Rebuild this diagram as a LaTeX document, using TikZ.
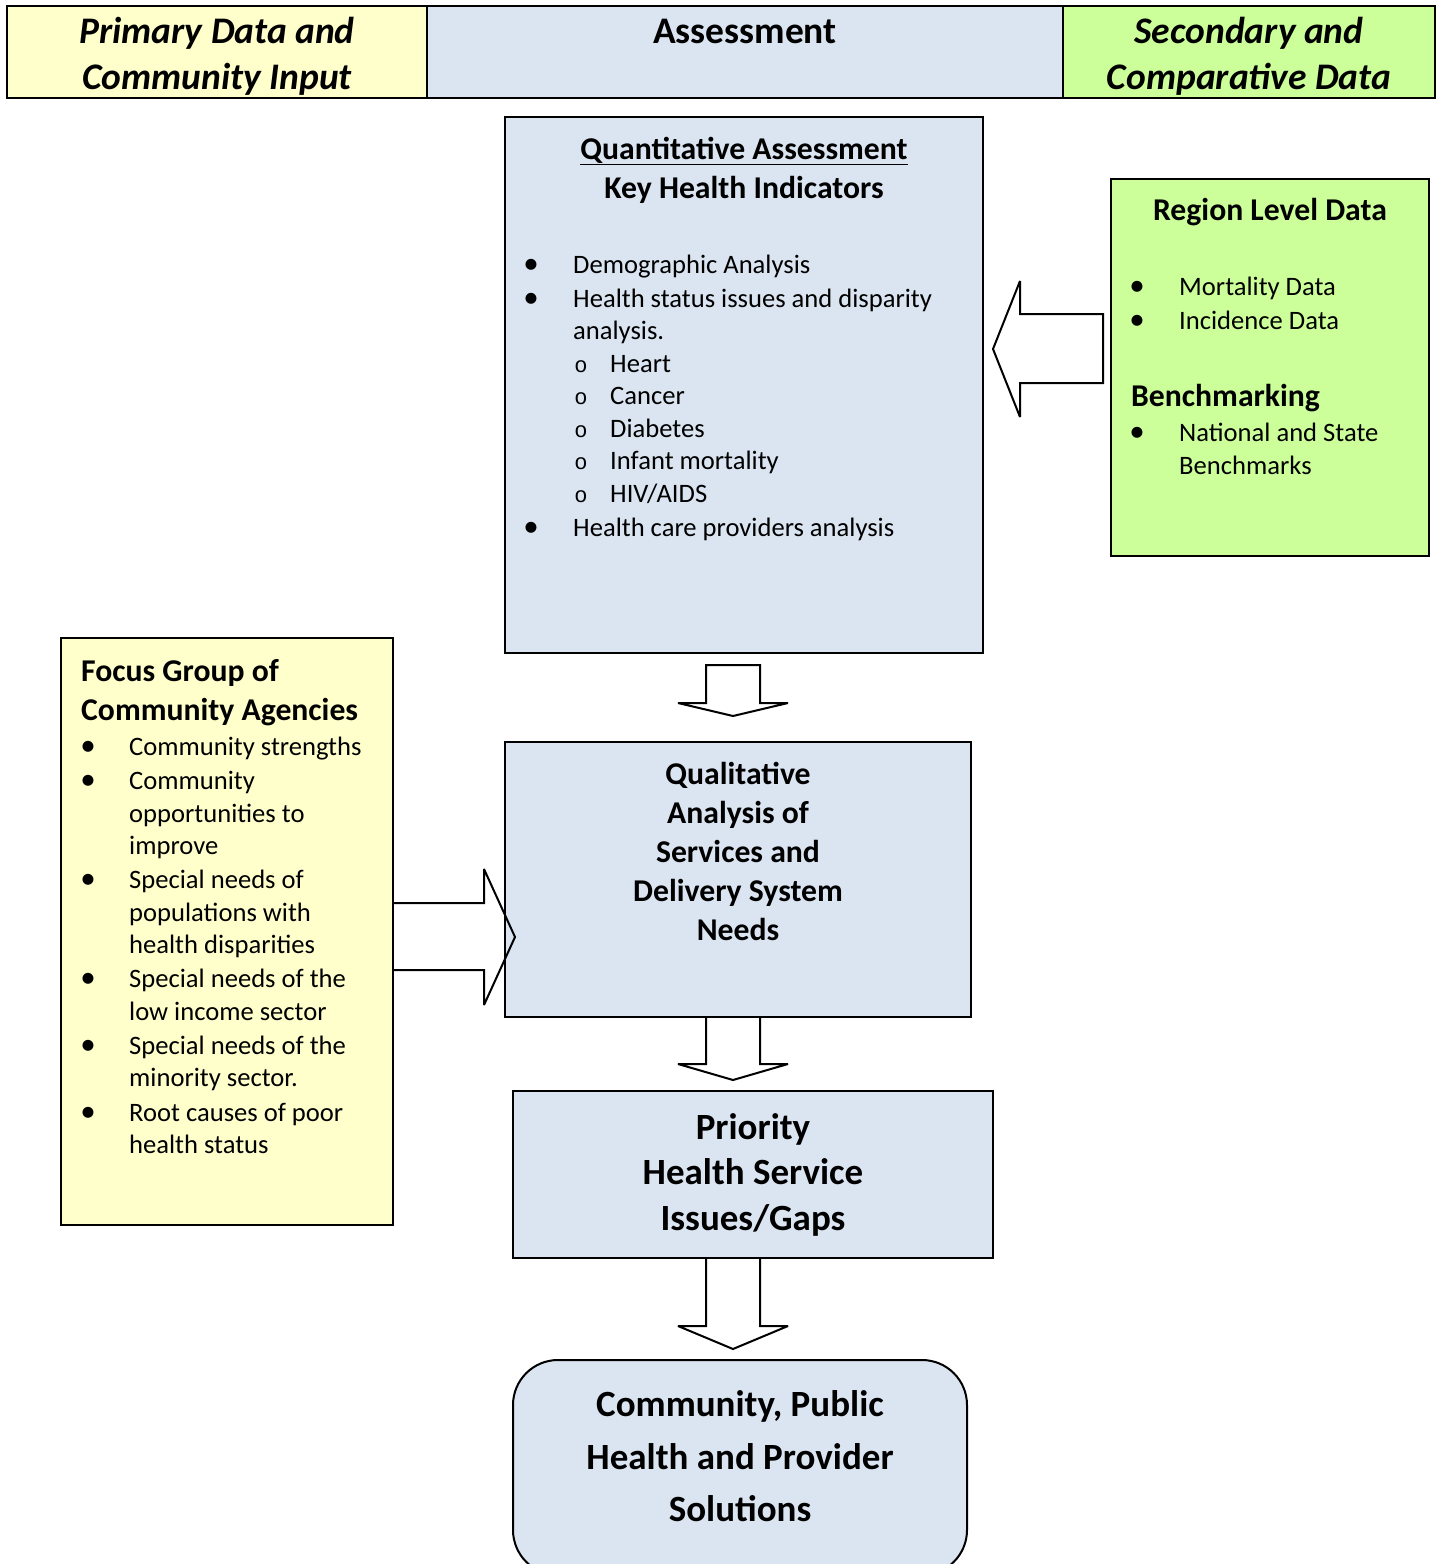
\documentclass[tikz,border=0pt]{standalone}
\usepackage{fontspec}
\setmainfont{Carlito}
\newfontfamily\monof{Liberation Mono}
\definecolor{yel}{HTML}{FFFFCC}
\definecolor{blu}{HTML}{DBE5F1}
\definecolor{grn}{HTML}{CCFF99}
\begin{document}
\begin{tikzpicture}[x=1pt,y=-1pt,
  box/.style={draw=black,line width=2pt,inner sep=0pt,outer sep=0pt,anchor=north west},
  body/.style={font=\fontsize{26.6}{33}\selectfont,inner sep=0pt,anchor=base west},
  bul/.style={font=\fontsize{31}{33}\selectfont,inner sep=0pt,anchor=base},
  sub/.style={font=\fontsize{22}{33}\selectfont\monof,inner sep=0pt,anchor=base},
  sec/.style={font=\fontsize{31.7}{39}\selectfont\bfseries,inner sep=0pt,anchor=base},
  secw/.style={sec,anchor=base west},
  hdr/.style={font=\fontsize{37.5}{45}\selectfont\bfseries\itshape,inner sep=0pt,anchor=base},
  big/.style={font=\fontsize{37}{46}\selectfont\bfseries,inner sep=0pt,anchor=base},
  blk/.style={draw=black,line width=2pt,line join=miter,miter limit=2.5}
]
\useasboundingbox (0,0) rectangle (1441,1564);
\clip (0,0) rectangle (1441,1564);
% header
\node[box,fill=yel,minimum width=420pt,minimum height=92pt] (h1) at (7,6) {};
\node[box,fill=blu,minimum width=636pt,minimum height=92pt] (h2) at (427,6) {};
\node[box,fill=grn,minimum width=372pt,minimum height=92pt] (h3) at (1063,6) {};
\node[hdr] (h1a) at (217,43) {Primary Data and};
\node[hdr] (h1b) at (217,89) {Community Input};
\node[hdr,font=\fontsize{37.5}{45}\selectfont\bfseries] (h2a) at (745,43) {Assessment};
\node[hdr] (h3a) at (1249,43) {Secondary and};
\node[hdr] (h3b) at (1249,89) {Comparative Data};
% quantitative box
\node[box,fill=blu,minimum width=478pt,minimum height=536pt] (quant) at (505,117) {};
\node[sec] (q1) at (744,159) {\underline{Quantitative Assessment}};
\node[sec] (q2) at (744,198) {Key Health Indicators};
\node[bul] (qb1) at (531,273) {•};
\node[body] (qt1) at (573,273) {Demographic Analysis};
\node[bul] (qb2) at (531,307) {•};
\node[body] (qt2) at (573,307) {Health status issues and disparity};
\node[body] (qt3) at (573,339) {analysis.};
\node[sub] (qs1) at (581,372) {o};
\node[body] (qt4) at (610,372) {Heart};
\node[sub] (qs2) at (581,404) {o};
\node[body] (qt5) at (610,404) {Cancer};
\node[sub] (qs3) at (581,437) {o};
\node[body] (qt6) at (610,437) {Diabetes};
\node[sub] (qs4) at (581,469) {o};
\node[body] (qt7) at (610,469) {Infant mortality};
\node[sub] (qs5) at (581,502) {o};
\node[body] (qt8) at (610,502) {HIV/AIDS};
\node[bul] (qb3) at (531,536) {•};
\node[body] (qt9) at (573,536) {Health care providers analysis};
% region box
\node[box,fill=grn,minimum width=318pt,minimum height=377pt] (region) at (1111,179) {};
\node[sec] (r1) at (1270,220) {Region Level Data};
\node[bul] (rb1) at (1137,295) {•};
\node[body] (rt1) at (1179,295) {Mortality Data};
\node[bul] (rb2) at (1137,329) {•};
\node[body] (rt2) at (1179,329) {Incidence Data};
\node[secw] (r2) at (1131,406) {Benchmarking};
\node[bul] (rb3) at (1137,441) {•};
\node[body] (rt3) at (1179,441) {National and State};
\node[body] (rt4) at (1179,474) {Benchmarks};
% left block arrow
\draw[blk] (region.west) ++(-8,-53.5) -- ++(-83,0) -- ++(0,-33) -- ++(-27,68) -- ++(27,68) -- ++(0,-34) -- ++(83,0) -- cycle;
% focus box
\node[box,fill=yel,minimum width=332pt,minimum height=587pt] (focus) at (61,638) {};
\node[secw] (f1) at (81,681) {Focus Group of};
\node[secw] (f2) at (81,720) {Community Agencies};
\node[bul] (fb1) at (88,755) {•};
\node[body] (ft1) at (129,755) {Community strengths};
\node[bul] (fb2) at (88,789) {•};
\node[body] (ft2) at (129,789) {Community};
\node[body] (ft3) at (129,822) {opportunities to};
\node[body] (ft4) at (129,854) {improve};
\node[bul] (fb3) at (88,888) {•};
\node[body] (ft5) at (129,888) {Special needs of};
\node[body] (ft6) at (129,921) {populations with};
\node[body] (ft7) at (129,953) {health disparities};
\node[bul] (fb4) at (88,987) {•};
\node[body] (ft8) at (129,987) {Special needs of the};
\node[body] (ft9) at (129,1020) {low income sector};
\node[bul] (fb5) at (88,1054) {•};
\node[body] (ft10) at (129,1054) {Special needs of the};
\node[body] (ft11) at (129,1086) {minority sector.};
\node[bul] (fb6) at (88,1121) {•};
\node[body] (ft12) at (129,1121) {Root causes of poor};
\node[body] (ft13) at (129,1153) {health status};
% qualitative box
\node[box,fill=blu,minimum width=466pt,minimum height=275pt] (qual) at (505,742) {};
\node[sec] (ql1) at (738,784) {Qualitative};
\node[sec] (ql2) at (738,823) {Analysis of};
\node[sec] (ql3) at (738,862) {Services and};
\node[sec] (ql4) at (738,901) {Delivery System};
\node[sec] (ql5) at (738,940) {Needs};
% right block arrow (outline only)
\draw[blk] (focus.east) ++(0,-28.5) -- ++(91,0) -- ++(0,-34) -- ++(31,68) -- ++(-31,68) -- ++(0,-35) -- ++(-91,0);
% down arrow 1
\draw[blk] (quant.south) ++(-38,12) -- ++(54,0) -- ++(0,38) -- ++(28,0) -- ++(-55,13) -- ++(-55,-13) -- ++(28,0) -- cycle;
% priority box
\node[box,fill=blu,minimum width=480pt,minimum height=167pt] (prio) at (513,1091) {};
\node[big] (p1) at (753,1139) {Priority};
\node[big] (p2) at (753,1184) {Health Service};
\node[big] (p3) at (753,1230) {Issues/Gaps};
% down arrow 2
\draw[blk] (qual.south) ++(-32,0) -- ++(0,47) -- ++(-28,0) -- ++(55,16) -- ++(55,-16) -- ++(-28,0) -- ++(0,-47);
% final box
\node[box,fill=blu,rounded corners=45pt,minimum width=454pt,minimum height=215pt] (final) at (513,1360) {};
\node[big] (s1) at (740,1416) {Community, Public};
\node[big] (s2) at (740,1469) {Health and Provider};
\node[big] (s3) at (740,1521) {Solutions};
% down arrow 3
\draw[blk] (prio.south) ++(-47,0) -- ++(0,68) -- ++(-28,0) -- ++(55,23) -- ++(55,-23) -- ++(-28,0) -- ++(0,-68);
\end{tikzpicture}
\end{document}
